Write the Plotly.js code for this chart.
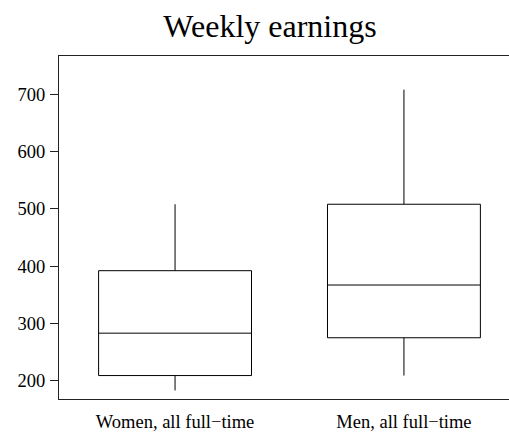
<!DOCTYPE html>
<html>
<head>
<meta charset="utf-8">
<script src="https://cdn.plot.ly/plotly-3.0.1.min.js"></script>
<style>html,body{margin:0;padding:0;background:#fff}#chart{width:509px;height:434px}</style>
</head>
<body>
<div id="chart"></div>
<script>
const categories = ["Women, all full\u2212time", "Men, all full\u2212time"];
const lowerWhisker = [183, 209];
const q1Values = [209, 275];
const medianValues = [283, 367];
const q3Values = [392, 508];
const upperWhisker = [508, 708];
const yTicks = [200, 300, 400, 500, 600, 700];

const serif = "Liberation Serif, Times New Roman, serif";

const trace = {
  type: "box",
  x: categories,
  q1: q1Values,
  median: medianValues,
  q3: q3Values,
  lowerfence: lowerWhisker,
  upperfence: upperWhisker,
  width: 0.668,
  fillcolor: "rgba(255,255,255,0)",
  line: {color: "#000", width: 1},
  whiskerwidth: 0,
  boxpoints: false,
  hoverinfo: "skip",
  showlegend: false
};

const layout = {
  width: 509, height: 434,
  margin: {l: 59, r: 0, t: 56, b: 35},
  paper_bgcolor: "#fff", plot_bgcolor: "#fff",
  font: {family: serif, color: "#000"},
  title: {text: "Weekly earnings", font: {family: serif, size: 32, color: "#000"},
          x: 270/509, xref: "container", xanchor: "center", y: 1 - 26/434, yref: "container", yanchor: "middle"},
  xaxis: {
    type: "category", range: [-0.507, 1.459],
    showgrid: false, zeroline: false,
    showline: true, linecolor: "#222", linewidth: 1, mirror: true,
    ticks: "", tickfont: {family: serif, size: 18.5, color: "#000"},
    ticklabelstandoff: 6,
    automargin: false
  },
  yaxis: {
    range: [168.1, 766.7],
    tickvals: yTicks, ticktext: yTicks.map(String),
    showgrid: false, zeroline: false,
    showline: true, linecolor: "#222", linewidth: 1,
    ticks: "outside", ticklen: 8, tickcolor: "#222", tickwidth: 1,
    tickfont: {family: serif, size: 18.5, color: "#000"},
    ticklabelstandoff: 1,
    automargin: false
  }
};

Plotly.newPlot("chart", [trace], layout, {displayModeBar: false, staticPlot: true});
</script>
</body>
</html>
